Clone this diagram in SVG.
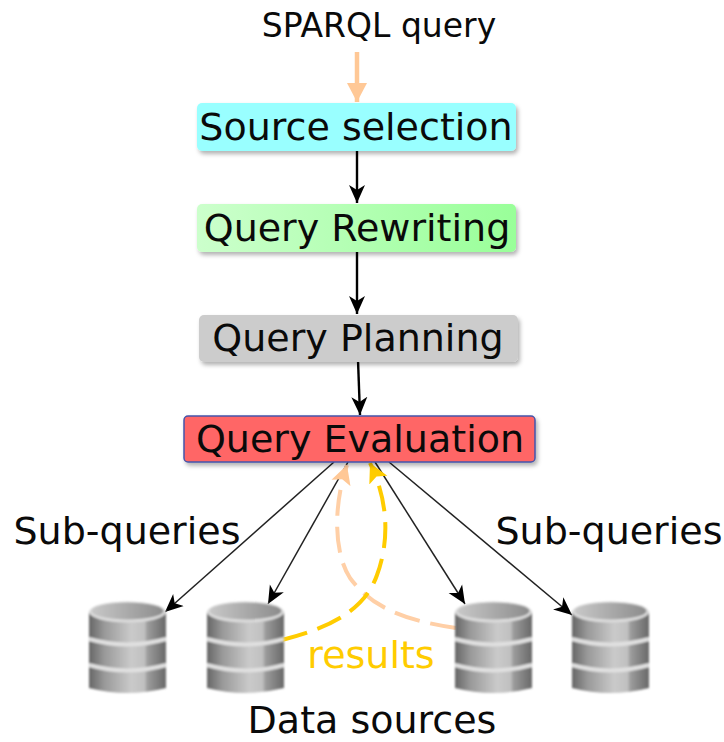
<svg xmlns="http://www.w3.org/2000/svg" width="724" height="742" viewBox="0 0 724 742">
<style>
text{font-family:"DejaVu Sans",sans-serif;fill:#0a0a0a;text-anchor:middle}
.n{font-size:38px}
.l{font-size:38px}
.k{fill:none;stroke:#000;stroke-width:2.4}
.t{fill:none;stroke:#222;stroke-width:1.5}
.box{filter:url(#sh)}
</style>
<defs>
<filter id="sh" x="-5%" y="-15%" width="112%" height="140%"><feDropShadow dx="2" dy="3" stdDeviation="2" flood-color="#000" flood-opacity=".3"/></filter>
<filter id="soft" x="-5%" y="-5%" width="110%" height="110%"><feGaussianBlur stdDeviation="1"/></filter>
<marker id="a" markerUnits="userSpaceOnUse" markerWidth="20" markerHeight="18" refX="18" refY="9" orient="auto"><path d="M0 1L18 9L0 17L5 9Z" fill="#000"/></marker>
<marker id="o" markerUnits="userSpaceOnUse" markerWidth="20" markerHeight="22" refX="19" refY="11" orient="auto"><path d="M0 1L19 11L0 21Z" fill="#ffc896"/></marker>
<marker id="p" markerUnits="userSpaceOnUse" markerWidth="20" markerHeight="22" refX="19" refY="11" orient="auto"><path d="M0 1L19 11L0 21L4 11Z" fill="#ffc896"/></marker>
<marker id="y" markerUnits="userSpaceOnUse" markerWidth="20" markerHeight="22" refX="19" refY="11" orient="auto"><path d="M0 1L19 11L0 21L4 11Z" fill="#ffcc00"/></marker>
<linearGradient id="g" x1="0" x2="1" y1="0" y2="0"><stop offset="0" stop-color="#ccffcc"/><stop offset="1" stop-color="#99ff99"/></linearGradient>
<linearGradient id="c" x1="0" x2="1" y1="0" y2="0"><stop offset="0" stop-color="#666"/><stop offset=".2" stop-color="#999"/><stop offset=".55" stop-color="#cacaca"/><stop offset=".72" stop-color="#c0c0c0"/><stop offset=".76" stop-color="#9c9c9c"/><stop offset="1" stop-color="#686868"/></linearGradient>
<linearGradient id="top" x1="0" x2="1" y1="0" y2="0"><stop offset="0" stop-color="#c8c8c8"/><stop offset="1" stop-color="#8c8c8c"/></linearGradient>
<g id="db" filter="url(#soft)">
<path d="M0 87V62Q38 74 77 62V87Q38 97 0 87Z" fill="url(#c)"/>
<path d="M0 64V36Q38 48 77 36V64Q38 76 0 64Z" fill="url(#c)"/>
<path d="M0 38V11Q38 0 77 11V38Q38 50 0 38Z" fill="url(#c)"/>
<path d="M0 64Q38 75 77 64" fill="none" stroke="#e0e0e0" stroke-width="4"/>
<path d="M0 38Q38 49 77 38" fill="none" stroke="#e0e0e0" stroke-width="4"/>
<ellipse cx="38.500" cy="11" rx="38.500" ry="10.500" fill="#dcdcdc"/>
<ellipse cx="38.500" cy="10" rx="36" ry="8.500" fill="url(#top)"/>
</g>
</defs>
<rect width="724" height="742" fill="#fff"/>
<g id="connectors">
<path d="M357 52V102" stroke="#ffc896" stroke-width="4.500" fill="none" marker-end="url(#o)"/>
<path class="k" d="M357 149V203" marker-end="url(#a)"/>
<path class="k" d="M357 251V314" marker-end="url(#a)"/>
<path class="k" d="M358 360L360 415" marker-end="url(#a)"/>
<path class="t" d="M334 462L165 612" marker-end="url(#a)"/>
<path class="t" d="M348 462L268 604" marker-end="url(#a)"/>
<path class="t" d="M375 462L465 604" marker-end="url(#a)"/>
<path class="t" d="M389 462L572 615" marker-end="url(#a)"/>
<path d="M456 628C400 620 370 605 350 578C335 555 332 510 347 465" fill="none" stroke="#ffcfa6" stroke-width="4" stroke-dasharray="26 11" marker-end="url(#p)"/>
<path d="M282 640C330 628 365 610 377 575C390 540 388 500 370 463" fill="none" stroke="#ffcc00" stroke-width="4" stroke-dasharray="26 11" marker-end="url(#y)"/>
</g>
<g id="n-sparql"><text x="379" y="37" style="font-size:33px">SPARQL query</text></g>
<g id="n-source"><rect class="box" x="197" y="103" width="319" height="48" rx="5" fill="#99ffff"/><text class="n" x="356" y="140">Source selection</text></g>
<g id="n-rewriting"><rect class="box" x="197" y="204" width="319" height="48" rx="5" fill="url(#g)"/><text class="n" x="357" y="241">Query Rewriting</text></g>
<g id="n-planning"><rect class="box" x="199" y="315" width="319" height="47" rx="5" fill="#cccccc"/><text class="n" x="358" y="351">Query Planning</text></g>
<g id="n-evaluation"><rect class="box" x="184" y="416" width="351" height="46" rx="4" fill="#ff6666" stroke="#4455aa" stroke-width="1.500"/><text class="n" x="360" y="452">Query Evaluation</text></g>
<g id="n-subq-l"><text class="l" x="127" y="544">Sub-queries</text></g>
<g id="n-subq-r"><text class="l" x="609" y="544">Sub-queries</text></g>
<g id="n-db1"><use href="#db" x="89" y="601"/></g>
<g id="n-db2"><use href="#db" x="207" y="601"/></g>
<g id="n-db3"><use href="#db" x="455" y="601"/></g>
<g id="n-db4"><use href="#db" x="572" y="601"/></g>
<g id="n-results"><text x="371" y="668" style="font-size:38px;fill:#ffcc00">results</text></g>
<g id="n-sources"><text x="372" y="733" style="font-size:38px">Data sources</text></g>
</svg>
